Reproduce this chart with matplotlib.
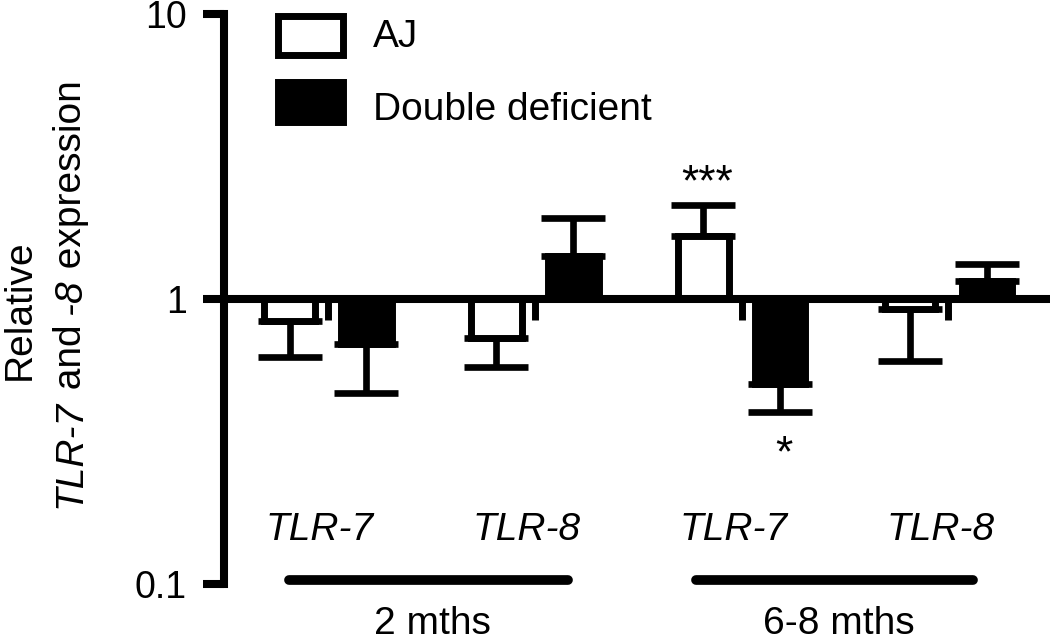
import numpy as np
import matplotlib
matplotlib.use('Agg')
import matplotlib.pyplot as plt
from matplotlib.patches import Rectangle

plt.rcParams['font.family'] = ['Liberation Sans', 'DejaVu Sans']

# data (relative expression, log scale)
categories = ['TLR-7', 'TLR-8', 'TLR-7', 'TLR-8']
groups = ['2 mths', '6-8 mths']
group_span = [(-0.19, 1.16), (1.78, 3.12)]
aj = [0.834, 0.727, 1.67, 0.926]
aj_err_end = [0.626, 0.577, 2.14, 0.606]
dd = [0.698, 1.42, 0.505, 1.16]
dd_err_end = [0.468, 1.92, 0.401, 1.33]
stub_end = [0.844, 0.844, 0.844, 0.844]
star_text = ['***', '*']
star_cat = [2, 2]
star_side = [-1, 1]      # -1 = AJ bar, 1 = DD bar
star_y = [2.31, 0.259]
yticks = [0.1, 1, 10]
yticklabels = ['0.1', '1', '10']

W, H = 1050, 642
fig = plt.figure(figsize=(W / 100, H / 100), dpi=100)
ax = fig.add_axes([224 / W, 1 - 584 / H, 826 / W, 570 / H])
ax.set_yscale('log')
ax.set_ylim(0.1, 10)
ax.set_xlim(-0.503, 3.491)

x = np.arange(len(categories))
off = 0.186
bw = 0.245
lw = 5.0


def draw_series(xs, vals, ends, face):
    vals = np.array(vals)
    ends = np.array(ends)
    lower = np.where(vals < 1, vals - ends, 0)
    upper = np.where(vals > 1, ends - vals, 0)
    ax.errorbar(xs, vals, yerr=[lower, upper], fmt='none', ecolor='black',
                elinewidth=4.8, capsize=23, capthick=4.8, zorder=2)
    ax.bar(xs, vals - 1, bottom=1, width=bw, color=face, edgecolor='black',
           linewidth=lw, zorder=3)


draw_series(x - off, aj, aj_err_end, 'white')
draw_series(x + off, dd, dd_err_end, 'black')
ax.vlines(x, stub_end, 1, color='black', lw=5, zorder=2)
ax.axhline(1, color='black', lw=5.8, zorder=5, solid_capstyle='butt')

for txt, c, side, yv in zip(star_text, star_cat, star_side, star_y):
    ax.text(c + side * off + 0.02, yv, txt, fontsize=32, ha='center', va='baseline')

# axis styling
for s in ['top', 'right', 'bottom']:
    ax.spines[s].set_visible(False)
ax.spines['left'].set_linewidth(5.8)
ax.spines['left'].set_capstyle('projecting')
ax.set_xticks([])
ax.set_yticks(yticks)
ax.set_yticklabels(yticklabels)
ax.yaxis.set_minor_locator(matplotlib.ticker.NullLocator())
ax.tick_params(axis='y', length=15, width=5.8, pad=12, labelsize=27)

# category and group labels
xt = ax.get_xaxis_transform()
for i, c in enumerate(categories):
    ax.text(i - 0.04, 0.077, c, transform=xt, fontsize=28, style='italic',
            ha='center', va='baseline')
for (a, b), g in zip(group_span, groups):
    ax.plot([a, b], [0.1033, 0.1033], color='black', lw=7,
            solid_capstyle='round', clip_on=False)
    ax.text((a + b) / 2 + 0.02, -0.0877, g, transform=xt, fontsize=28,
            ha='center', va='baseline')

# legend
ax.add_patch(Rectangle((0.0654, 0.928), 0.0787, 0.0684, transform=ax.transAxes,
                       facecolor='white', edgecolor='black', lw=lw, clip_on=False))
ax.add_patch(Rectangle((0.0654, 0.8105), 0.0787, 0.0702, transform=ax.transAxes,
                       facecolor='black', edgecolor='black', lw=lw, clip_on=False))
ax.text(0.1804, 0.942, 'AJ', transform=ax.transAxes, fontsize=28, va='baseline')
ax.text(0.1804, 0.814, 'Double deficient', transform=ax.transAxes, fontsize=28,
        va='baseline')

# y label (two lines, partly italic)
fig.text(30 / W, 1 - 310 / H, 'Relative', rotation=90, rotation_mode='anchor',
         ha='center', va='baseline', fontsize=28)
pieces = [('TLR-7', 'italic'), (' and ', 'normal'), ('-8', 'italic'),
          (' expression', 'normal')]
prev = fig.text(81 / W, 1 - 508 / H, pieces[0][0], rotation=90,
                rotation_mode='anchor', ha='left', va='baseline', fontsize=28,
                style=pieces[0][1])
for txt, st in pieces[1:]:
    prev = ax.annotate(txt, xy=(81, 1), xycoords=('figure pixels', prev),
                       rotation=90, rotation_mode='anchor', ha='left',
                       va='baseline', fontsize=28, style=st,
                       annotation_clip=False)

fig.savefig('out.png', dpi=100)
